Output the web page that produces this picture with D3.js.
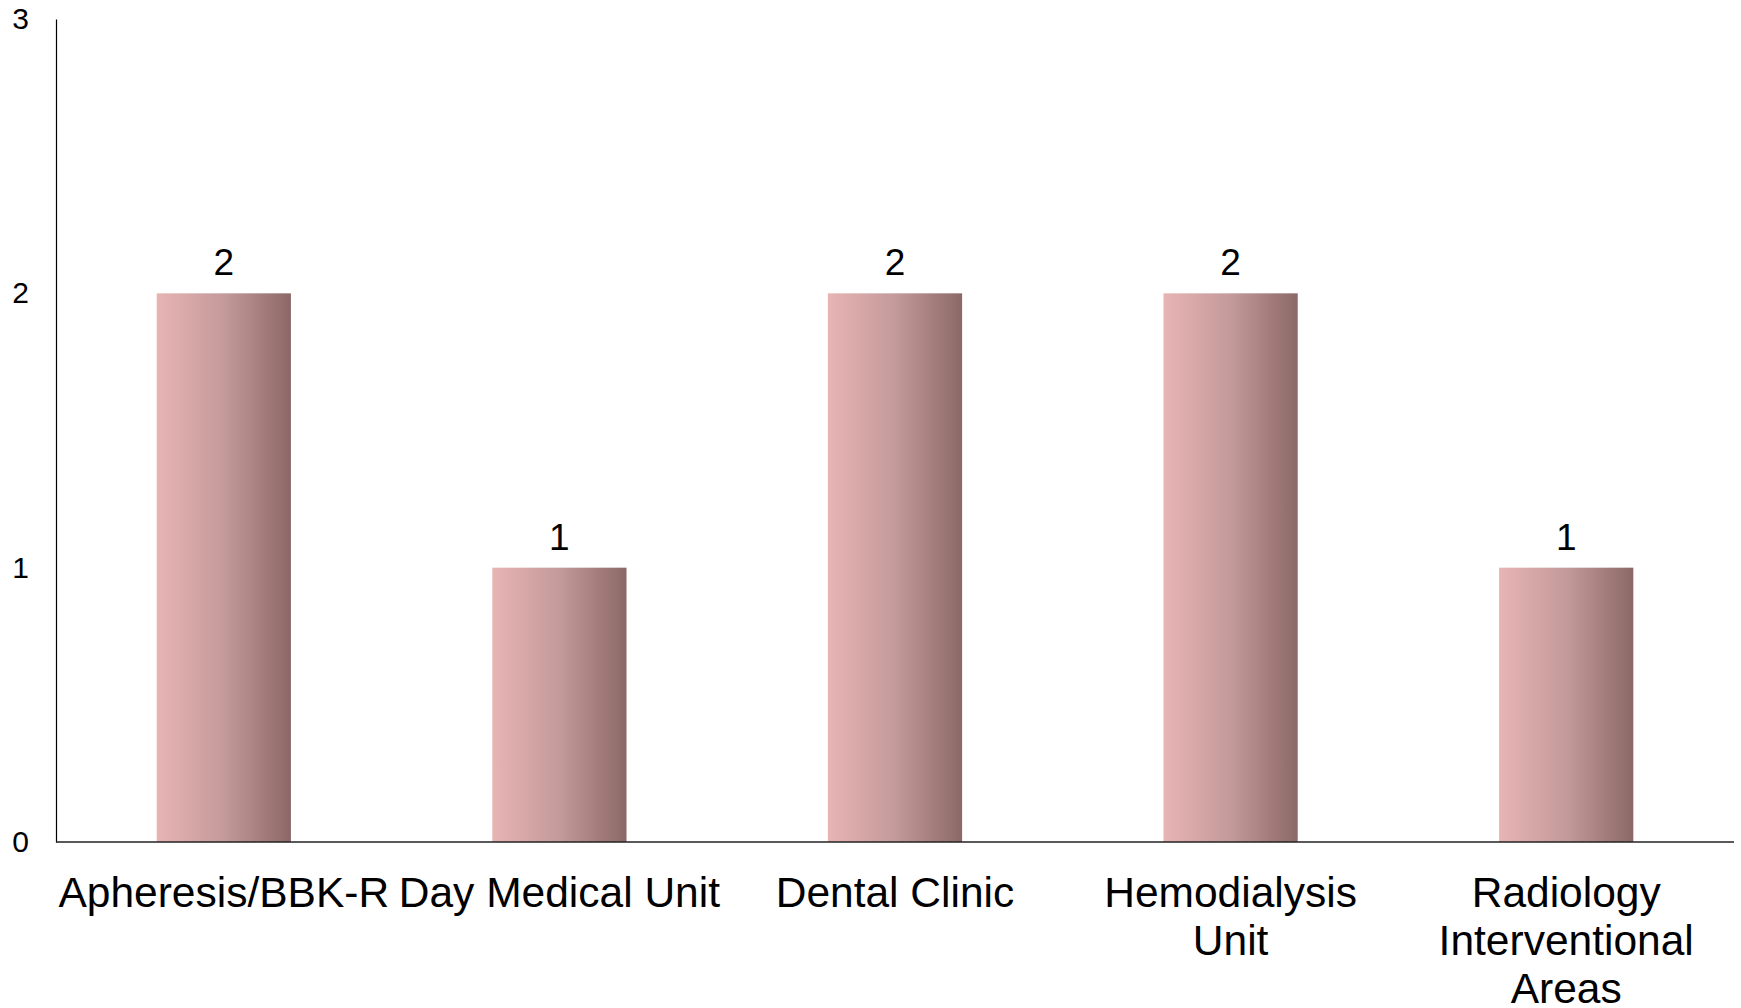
<!DOCTYPE html>
<html>
<head>
<meta charset="utf-8">
<script src="https://cdn.jsdelivr.net/npm/d3@7"></script>
<style>
  html, body { margin: 0; padding: 0; background: #fff; }
  svg { display: block; }
  text { font-family: "Liberation Sans", Arial, sans-serif; fill: #000; }
</style>
</head>
<body>
<svg id="chart" width="1741" height="1008"></svg>
<script>
const categories = ["Apheresis/BBK-R", "Day Medical Unit", "Dental Clinic", "Hemodialysis Unit", "Radiology Interventional Areas"];
const values = [2, 1, 2, 2, 1];
const yTicks = [0, 1, 2, 3];

const svg = d3.select("#chart");
const margin = { left: 56, right: 7, top: 19, bottom: 166 };
const W = 1741, H = 1008;
const x0 = margin.left, x1 = W - margin.right;
const yTop = margin.top, yBot = H - margin.bottom;

const x = d3.scaleBand().domain(categories).range([x0, x1]).paddingInner(0.6).paddingOuter(0.3);
const y = d3.scaleLinear().domain([0, 3]).range([yBot, yTop]);

const defs = svg.append("defs");
const grad = defs.append("linearGradient").attr("id", "barGrad")
  .attr("x1", "0%").attr("x2", "100%").attr("y1", "0%").attr("y2", "0%");
grad.append("stop").attr("offset", "0%").attr("stop-color", "#e8b4b4");
grad.append("stop").attr("offset", "50%").attr("stop-color", "#c49a9a");
grad.append("stop").attr("offset", "100%").attr("stop-color", "#8b6866");

// bars
svg.append("g").selectAll("rect").data(categories).join("rect")
  .attr("x", d => x(d))
  .attr("width", x.bandwidth())
  .attr("y", (d, i) => y(values[i]))
  .attr("height", (d, i) => y(0) - y(values[i]))
  .attr("fill", "url(#barGrad)");

// value labels
svg.append("g").selectAll("text").data(categories).join("text")
  .attr("x", d => x(d) + x.bandwidth() / 2)
  .attr("y", (d, i) => y(values[i]) - 18)
  .attr("text-anchor", "middle")
  .style("font-size", "37px")
  .text((d, i) => values[i]);

// y axis
const yAxis = d3.axisLeft(y).tickValues(yTicks).tickSize(0).tickPadding(27).tickFormat(d3.format("d"));
const gy = svg.append("g").attr("transform", `translate(${x0},0)`).call(yAxis);
gy.attr("font-size", null).attr("font-family", null);
gy.select(".domain").attr("stroke", "#000").attr("stroke-width", 1.2);
gy.selectAll(".tick text").style("font-size", "30px").attr("fill", "#000")
  .style("font-family", '"Liberation Sans", Arial, sans-serif');

// x axis
const xAxis = d3.axisBottom(x).tickSize(0).tickPadding(0);
const gx = svg.append("g").attr("transform", `translate(0,${yBot})`).call(xAxis);
gx.select(".domain").attr("stroke", "#222").attr("stroke-width", 1.6)
  .attr("d", `M${x0},0H${x1}`);
gx.selectAll(".tick text").remove();

// category labels with wrapping
const step = x.step();
const labelG = svg.append("g");
categories.forEach(cat => {
  const cx = x(cat) + x.bandwidth() / 2;
  const t = labelG.append("text")
    .attr("x", cx).attr("y", yBot + 65)
    .attr("text-anchor", "middle")
    .style("font-size", "42.5px");
  const words = cat.split(" ");
  let lines = [];
  let cur = [];
  const probe = t.append("tspan");
  words.forEach(w => {
    const test = cur.concat([w]).join(" ");
    probe.text(test);
    if (probe.node().getComputedTextLength() > step && cur.length) {
      lines.push(cur.join(" "));
      cur = [w];
    } else {
      cur.push(w);
    }
  });
  if (cur.length) lines.push(cur.join(" "));
  probe.remove();
  lines.forEach((ln, i) => {
    t.append("tspan").attr("x", cx).attr("dy", i === 0 ? 0 : 48).text(ln);
  });
});
</script>
</body>
</html>
